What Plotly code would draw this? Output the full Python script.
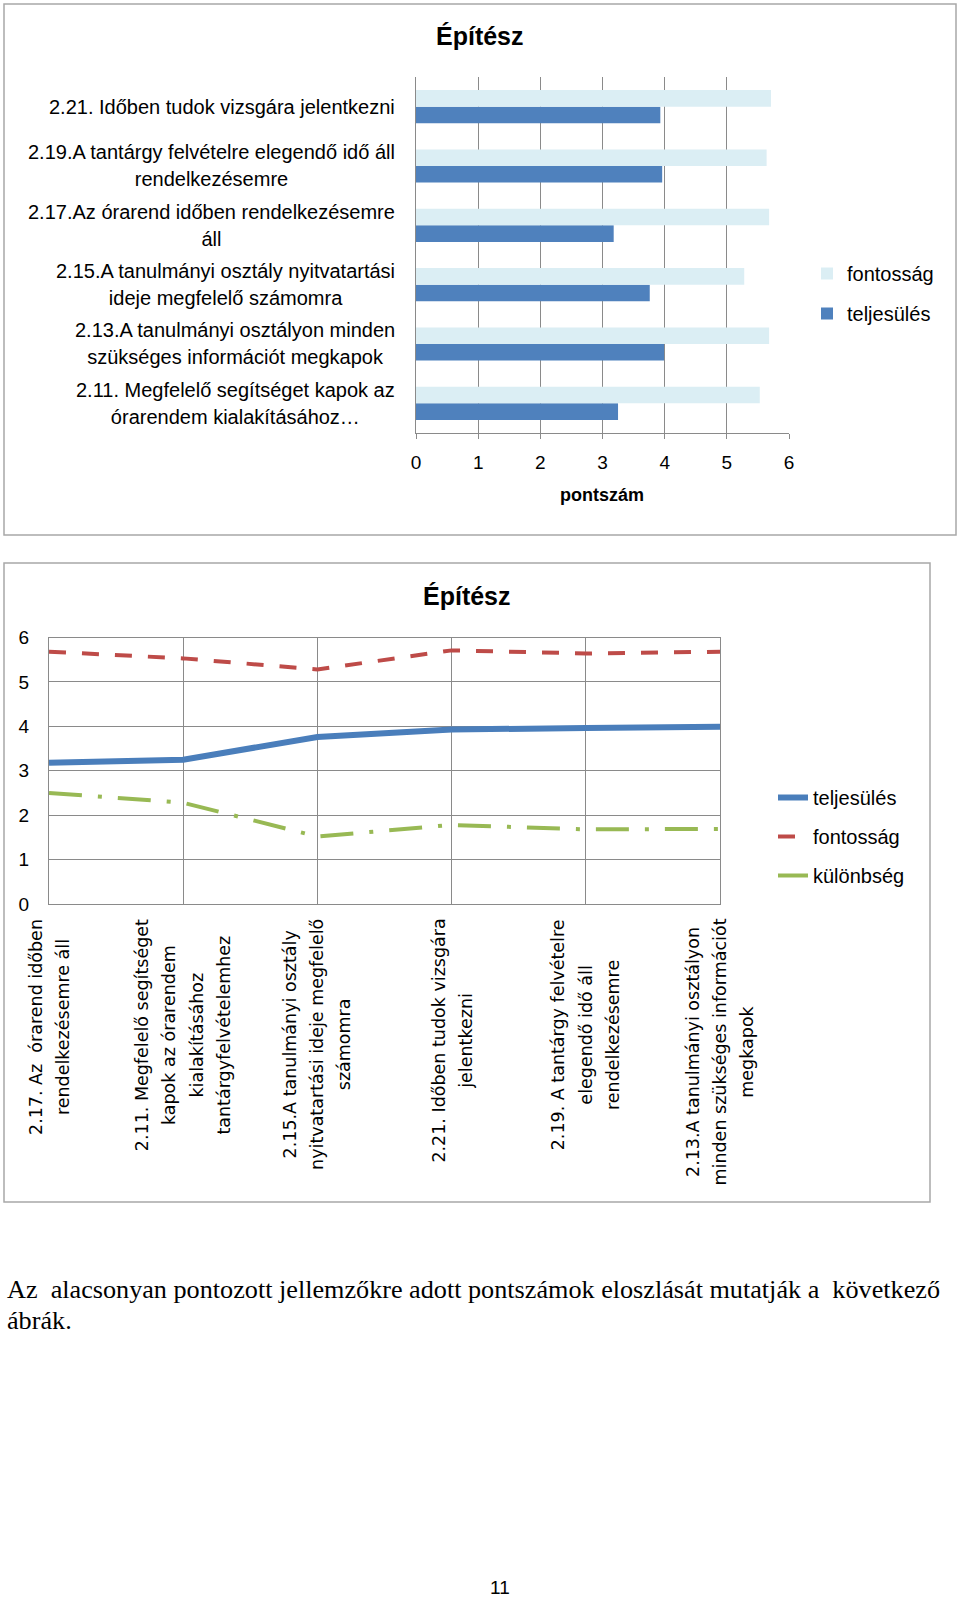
import plotly.graph_objects as go

W, H = 960, 1600

# ---------------- data ----------------
bar_keys = ["2.11", "2.13", "2.15", "2.17", "2.19", "2.21"]
bar_labels = [
    ["2.11. Megfelelő segítséget kapok az", "órarendem kialakításához…"],
    ["2.13.A tanulmányi osztályon minden", "szükséges információt megkapok"],
    ["2.15.A tanulmányi osztály nyitvatartási", "ideje megfelelő számomra"],
    ["2.17.Az órarend időben rendelkezésemre", "áll"],
    ["2.19.A tantárgy felvételre elegendő idő áll", "rendelkezésemre"],
    ["2.21. Időben tudok vizsgára jelentkezni"],
]
bar_fontossag = [5.53, 5.68, 5.28, 5.68, 5.64, 5.71]
bar_teljesules = [3.25, 3.99, 3.76, 3.18, 3.96, 3.93]
bar_xticks = [0, 1, 2, 3, 4, 5, 6]

line_keys = ["2.17", "2.11", "2.15", "2.21", "2.19", "2.13"]
line_labels = [
    ["2.17. Az\u00a0 órarend időben", "rendelkezésemre áll"],
    ["2.11. Megfelelő segítséget", "kapok az órarendem", "kialakításához", "tantárgyfelvételemhez"],
    ["2.15.A tanulmányi osztály", "nyitvatartási ideje megfelelő", "számomra"],
    ["2.21. Időben tudok vizsgára", "jelentkezni"],
    ["2.19. A tantárgy felvételre", "elegendő idő áll", "rendelkezésemre"],
    ["2.13.A tanulmányi osztályon", "minden szükséges információt", "megkapok"],
]
line_teljesules = [3.18, 3.25, 3.76, 3.93, 3.96, 3.99]
line_fontossag = [5.68, 5.53, 5.28, 5.71, 5.64, 5.68]
line_kulonbseg = [2.50, 2.28, 1.52, 1.78, 1.68, 1.69]
line_yticks = [0, 1, 2, 3, 4, 5, 6]

title_text = "Építész"
axis_title = "pontszám"
body_line1 = "Az\u00a0 alacsonyan pontozott jellemzőkre adott pontszámok eloszlását mutatják a\u00a0 következő"
body_line2 = "ábrák."
page_number = "11"

# ---------------- styles ----------------
FONT = "Liberation Sans, Arial, sans-serif"
ROT_FONT = "DejaVu Sans, Verdana, sans-serif"
SERIF = "Liberation Serif, Times New Roman, serif"
GRID = "#8a8a8a"
BORDER = "#a8a8a8"
C_LIGHT = "#dbeef4"
C_DARK = "#4f81bd"
C_BLUE = "#4a7ebb"
C_RED = "#be4b48"
C_GREEN = "#98b954"


def px(x):
    return x / W


def py(y):
    return 1 - y / H


def multiline(lines, size):
    return "<br>".join(f"<span style='font-size:{size}px'>{l}</span>" for l in lines)


fig = go.Figure()

# ---------- bar chart ----------
fig.add_trace(go.Bar(
    y=bar_keys, x=bar_teljesules, orientation="h", name="teljesülés",
    marker=dict(color=C_DARK, line=dict(width=0)),
    xaxis="x", yaxis="y", legend="legend", legendgroup="t", legendrank=2,
))
fig.add_trace(go.Bar(
    y=bar_keys, x=bar_fontossag, orientation="h", name="fontosság",
    marker=dict(color=C_LIGHT, line=dict(width=0)),
    xaxis="x", yaxis="y", legend="legend", legendgroup="f", legendrank=1,
))

# ---------- line chart ----------
fig.add_trace(go.Scatter(
    x=line_keys, y=line_teljesules, mode="lines", name="teljesülés",
    line=dict(color=C_BLUE, width=6),
    xaxis="x2", yaxis="y2", legend="legend2", legendgroup="a",
))
fig.add_trace(go.Scatter(
    x=line_keys, y=line_fontossag, mode="lines", name="fontosság",
    line=dict(color=C_RED, width=4, dash="17px,16px"),
    xaxis="x2", yaxis="y2", legend="legend2", legendgroup="b",
))
fig.add_trace(go.Scatter(
    x=line_keys, y=line_kulonbseg, mode="lines", name="különbség",
    line=dict(color=C_GREEN, width=4, dash="33px,16px,4px,16px"),
    xaxis="x2", yaxis="y2", legend="legend2", legendgroup="c",
))

annotations = []
# titles
annotations.append(dict(text=f"<b>{title_text}</b>", x=px(480), y=py(36), xref="paper", yref="paper",
                        showarrow=False, font=dict(family=FONT, size=25, color="#000"),
                        xanchor="center", yanchor="middle"))
annotations.append(dict(text=f"<b>{title_text}</b>", x=px(467), y=py(596), xref="paper", yref="paper",
                        showarrow=False, font=dict(family=FONT, size=25, color="#000"),
                        xanchor="center", yanchor="middle"))
# bar chart category labels
for i, lines in enumerate(bar_labels):
    annotations.append(dict(text=multiline(lines, 20), x=px(397), y=i, xref="paper", yref="y",
                            showarrow=False, align="center", xanchor="right", yanchor="middle",
                            font=dict(family=FONT, size=21, color="#000")))
annotations.append(dict(text=f"<b>{axis_title}</b>", x=px(602), y=py(495), xref="paper", yref="paper",
                        showarrow=False, font=dict(family=FONT, size=18, color="#000"),
                        xanchor="center", yanchor="middle"))
# line chart rotated category labels
for i, lines in enumerate(line_labels):
    annotations.append(dict(text=multiline(lines, 17.5), x=i, y=py(917), xref="x2", yref="paper",
                            showarrow=False, align="center", xanchor="center", yanchor="top",
                            textangle=-90, font=dict(family=ROT_FONT, size=21, color="#000")))
# body text
annotations.append(dict(text=body_line1, x=px(5), y=py(1289), xref="paper", yref="paper",
                        showarrow=False, xanchor="left", yanchor="middle",
                        font=dict(family=SERIF, size=26.2, color="#000")))
annotations.append(dict(text=body_line2, x=px(5), y=py(1320), xref="paper", yref="paper",
                        showarrow=False, xanchor="left", yanchor="middle",
                        font=dict(family=SERIF, size=26.2, color="#000")))
annotations.append(dict(text=page_number, x=px(500), y=py(1587), xref="paper", yref="paper",
                        showarrow=False, xanchor="center", yanchor="middle",
                        font=dict(family=FONT, size=19, color="#000")))

shapes = [
    dict(type="rect", xref="paper", yref="paper", x0=px(4), x1=px(956), y0=py(4), y1=py(535),
         line=dict(color=BORDER, width=1.5), fillcolor="rgba(0,0,0,0)", layer="below"),
    dict(type="rect", xref="paper", yref="paper", x0=px(4), x1=px(930), y0=py(563), y1=py(1202),
         line=dict(color=BORDER, width=1.5), fillcolor="rgba(0,0,0,0)", layer="below"),
]

fig.update_layout(
    width=W, height=H,
    margin=dict(l=0, r=0, t=0, b=0, pad=0, autoexpand=False),
    paper_bgcolor="white", plot_bgcolor="white",
    barmode="group", bargap=0.44, bargroupgap=0,
    font=dict(family=FONT, size=17, color="#000"),
    xaxis=dict(domain=[px(416), px(789)], anchor="y", range=[0, 6], tickvals=bar_xticks,
               showgrid=True, gridcolor=GRID, gridwidth=1, zeroline=False,
               showline=True, linecolor=GRID, linewidth=1, automargin=False,
               ticks="outside", ticklen=5, tickcolor=GRID, ticklabelstandoff=7,
               tickfont=dict(family=FONT, size=19)),
    yaxis=dict(domain=[py(433), py(77)], anchor="x", type="category",
               categoryorder="array", categoryarray=bar_keys, automargin=False,
               showticklabels=False, showgrid=False, zeroline=False,
               showline=True, linecolor=GRID, linewidth=1),
    xaxis2=dict(domain=[px(49), px(720)], anchor="y2", type="category",
                categoryorder="array", categoryarray=line_keys, range=[0, 5],
                showgrid=True, gridcolor=GRID, gridwidth=1, showticklabels=False,
                showline=True, mirror=True, linecolor=GRID, linewidth=1, zeroline=False,
                automargin=False),
    yaxis2=dict(domain=[py(904), py(637.5)], anchor="x2", range=[0, 6], tickvals=line_yticks,
                showgrid=True, gridcolor=GRID, gridwidth=1, zeroline=False,
                showline=True, mirror=True, linecolor=GRID, linewidth=1, automargin=False,
                ticks="", ticklabelstandoff=15, tickfont=dict(family=FONT, size=19)),
    legend=dict(x=px(807), y=py(254), xanchor="left", yanchor="top",
                traceorder="grouped", tracegroupgap=11,
                font=dict(family=FONT, size=20), bgcolor="rgba(0,0,0,0)"),
    legend2=dict(x=px(773), y=py(778), xanchor="left", yanchor="top",
                 traceorder="grouped", tracegroupgap=10,
                 font=dict(family=FONT, size=20), bgcolor="rgba(0,0,0,0)"),
    annotations=annotations,
    shapes=shapes,
    showlegend=True,
)

fig.write_html(
    "out.html",
    config={"displayModeBar": False},
    post_script=(
        "document.documentElement.style.margin='0';"
        "document.body.style.margin='0';"
        "document.body.style.padding='0';"
    ),
)
